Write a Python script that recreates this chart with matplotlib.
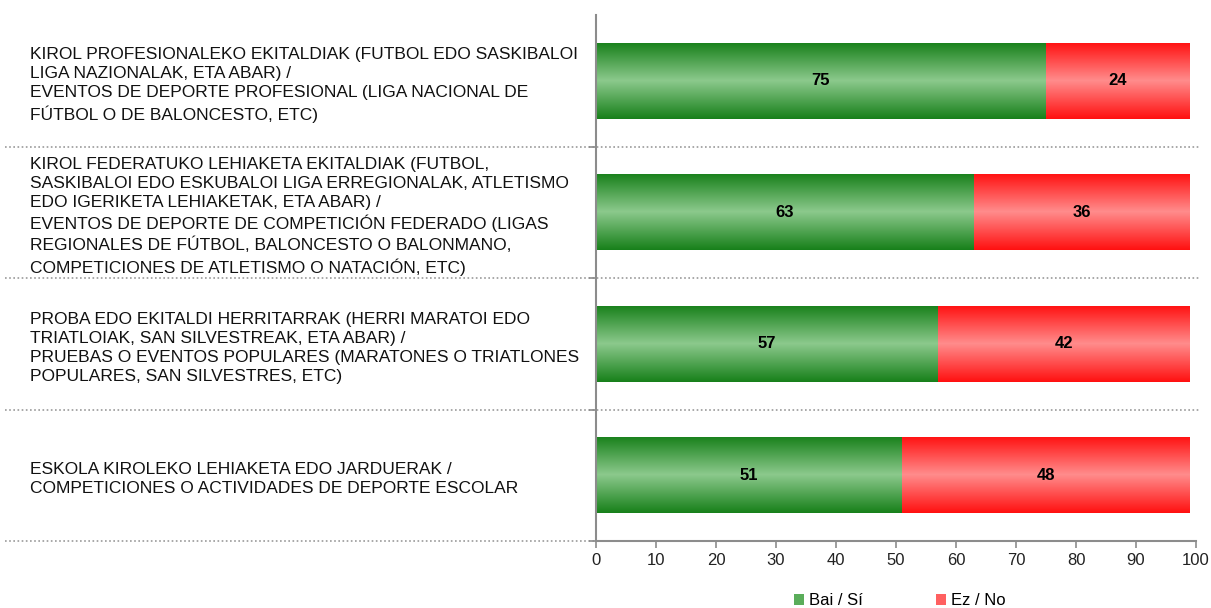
import numpy as np
import matplotlib
matplotlib.use("Agg")
import matplotlib.pyplot as plt
from matplotlib.colors import LinearSegmentedColormap
from matplotlib.transforms import blended_transform_factory
from matplotlib.patches import Patch

plt.rcParams["font.family"] = ["Liberation Sans", "DejaVu Sans"]

categories = [
    "KIROL PROFESIONALEKO EKITALDIAK (FUTBOL EDO SASKIBALOI\nLIGA NAZIONALAK, ETA ABAR) /\n"
    "EVENTOS DE DEPORTE PROFESIONAL (LIGA NACIONAL DE\nFÚTBOL O DE BALONCESTO, ETC)",
    "KIROL FEDERATUKO LEHIAKETA EKITALDIAK (FUTBOL,\nSASKIBALOI EDO ESKUBALOI LIGA ERREGIONALAK, ATLETISMO\n"
    "EDO IGERIKETA LEHIAKETAK, ETA ABAR) /\nEVENTOS DE DEPORTE DE COMPETICIÓN FEDERADO (LIGAS\n"
    "REGIONALES DE FÚTBOL, BALONCESTO O BALONMANO,\nCOMPETICIONES DE ATLETISMO O NATACIÓN, ETC)",
    "PROBA EDO EKITALDI HERRITARRAK (HERRI MARATOI EDO\nTRIATLOIAK, SAN SILVESTREAK, ETA ABAR) /\n"
    "PRUEBAS O EVENTOS POPULARES (MARATONES O TRIATLONES\nPOPULARES, SAN SILVESTRES, ETC)",
    "ESKOLA KIROLEKO LEHIAKETA EDO JARDUERAK /\nCOMPETICIONES O ACTIVIDADES DE DEPORTE ESCOLAR",
]
bai = [75, 63, 57, 51]
ez = [24, 36, 42, 48]
series_names = ["Bai / Sí", "Ez / No"]

green_map = LinearSegmentedColormap.from_list("g", ["#17801a", "#8cc98c", "#17801a"])
red_map = LinearSegmentedColormap.from_list("r", ["#ff1010", "#ff8c8c", "#ff1010"])

fig = plt.figure(figsize=(12.11, 6.08), dpi=100)
ax = fig.add_axes([596 / 1211, 0.1102, 600 / 1211, 0.8651])

y = np.arange(len(categories))
bar_h = 0.58
grad = np.linspace(0, 1, 256).reshape(-1, 1)


def gradient_bars(lefts, widths, cmap, label):
    bars = ax.barh(y, widths, left=lefts, height=bar_h, color=cmap(0.5), label=label)
    for b in bars:
        x0, y0 = b.get_x(), b.get_y()
        img = ax.imshow(grad, extent=[x0, x0 + b.get_width(), y0, y0 + b.get_height()],
                        aspect="auto", cmap=cmap, zorder=2)
        img.set_clip_path(b)
    return bars


gradient_bars(np.zeros(len(bai)), bai, green_map, series_names[0])
gradient_bars(bai, ez, red_map, series_names[1])

for i in range(len(categories)):
    ax.text(bai[i] / 2, y[i], str(bai[i]), ha="center", va="center",
            fontsize=12, fontweight="bold", zorder=3)
    ax.text(bai[i] + ez[i] / 2, y[i], str(ez[i]), ha="center", va="center",
            fontsize=12, fontweight="bold", zorder=3)

ax.set_xlim(0, 100)
ax.set_ylim(len(categories) - 0.5, -0.5)
ax.set_xticks(np.arange(0, 101, 10))
ax.set_yticks(np.arange(len(categories)) + 0.5)
ax.set_yticklabels([])
for s in ["top", "right"]:
    ax.spines[s].set_visible(False)
for s in ["left", "bottom"]:
    ax.spines[s].set_color("#8c8c8c")
    ax.spines[s].set_linewidth(1.5)
ax.tick_params(axis="x", colors="#8c8c8c", labelcolor="#222222", labelsize=12, length=5, width=1.2)
ax.tick_params(axis="y", colors="#8c8c8c", length=5, width=1.2)

# category labels and dotted separators
trans = blended_transform_factory(fig.transFigure, ax.transData)
for i, cat in enumerate(categories):
    ax.text(30 / 1211, y[i] + 0.03, cat, transform=trans, ha="left", va="center",
            fontsize=12.5, linespacing=1.34, color="#111111")
for i in range(len(categories)):
    x_end = 1200 / 1211 if i < len(categories) - 1 else 620 / 1211
    ax.plot([5 / 1211, x_end], [y[i] + 0.5, y[i] + 0.5], transform=trans,
            color="#9a9a9a", linestyle=(0, (1, 1.5)), linewidth=1.2, clip_on=False, zorder=0)

handles = [Patch(facecolor="#5aad5a", edgecolor="none"), Patch(facecolor="#ff6060", edgecolor="none")]
fig.legend(handles, series_names, loc="center", bbox_to_anchor=(0.743, 0.012), ncol=2,
           frameon=False, fontsize=12, handlelength=0.6, handleheight=0.6,
           handletextpad=0.3, columnspacing=4.35)

fig.savefig("out.png", dpi=100)
